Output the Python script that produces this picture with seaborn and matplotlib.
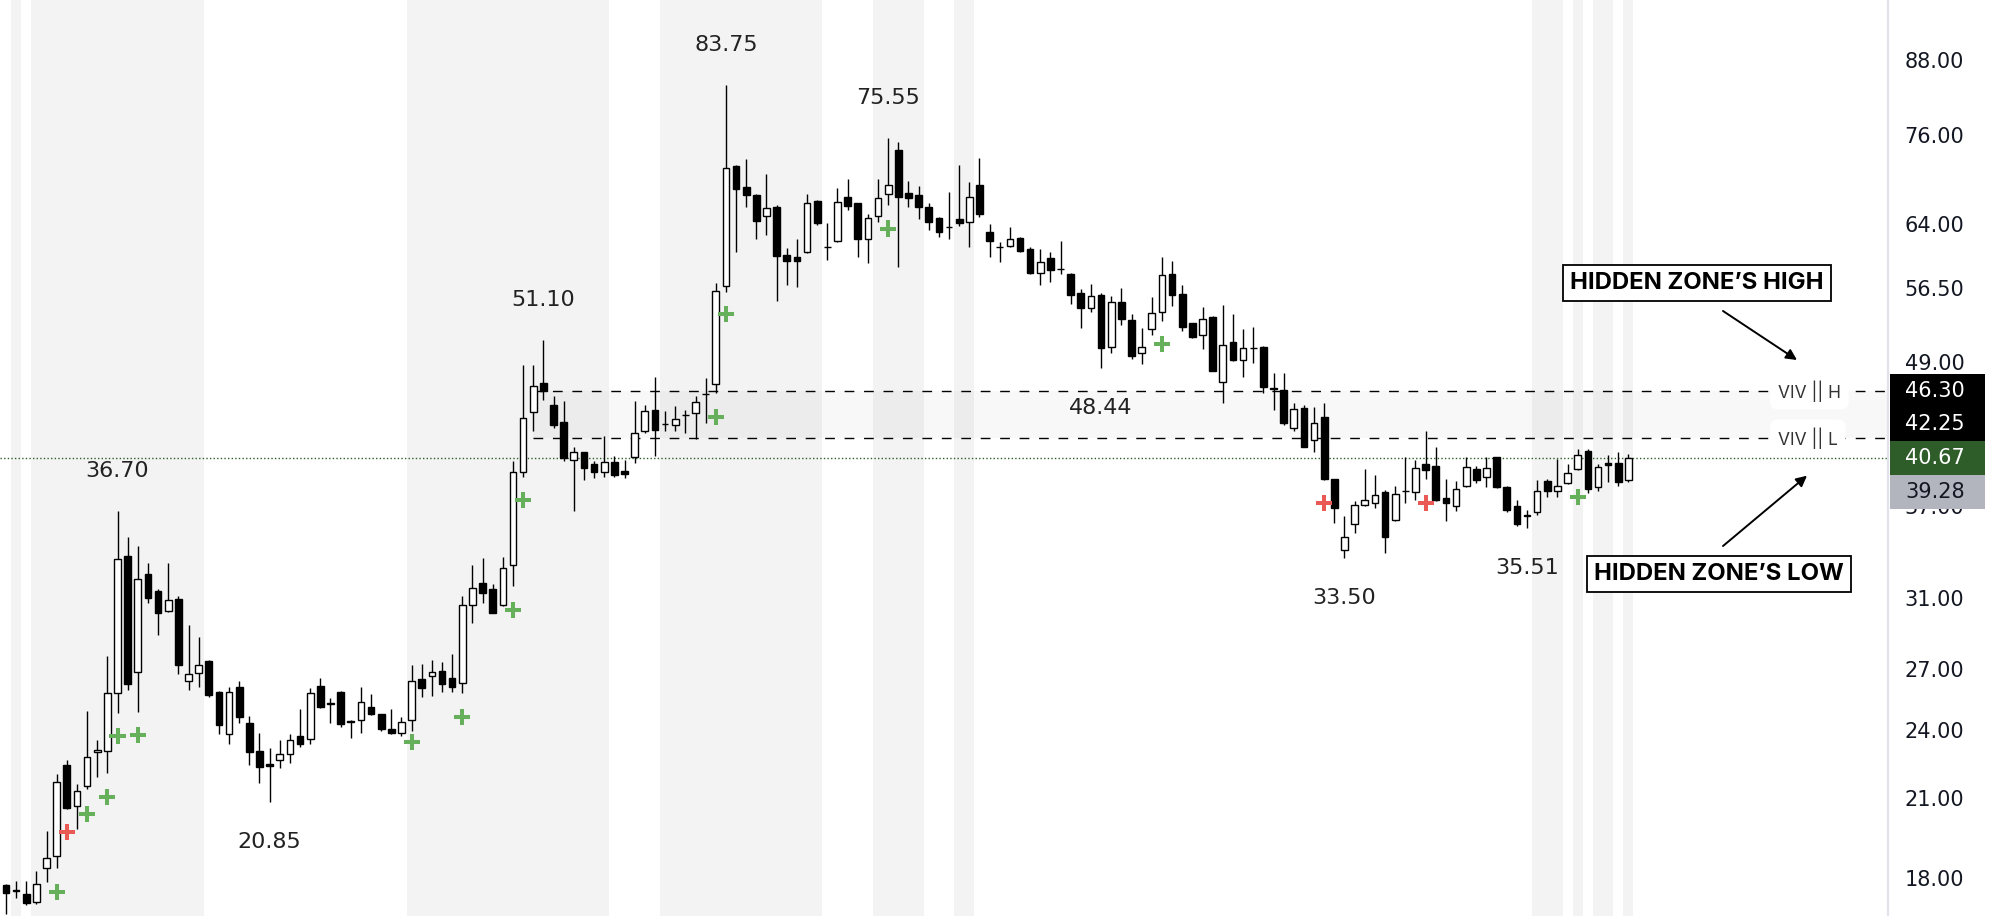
import numpy as np
import pandas as pd
import matplotlib
matplotlib.use("Agg")
import matplotlib.pyplot as plt
import matplotlib.ticker as mticker
import seaborn as sns
from matplotlib.transforms import blended_transform_factory, offset_copy
from matplotlib.patches import Rectangle

# OHLC (log price axis)
opens = [17.76, 17.57, 17.45, 17.19, 18.36, 18.78, 22.41, 20.70, 21.52, 22.98,
         23.03, 25.78, 33.59, 26.85, 32.46, 31.43, 30.21, 30.91, 26.39, 26.80,
         27.42, 25.80, 23.80, 26.09, 24.30, 23.03, 22.45, 22.63, 22.90, 23.72,
         23.58, 26.14, 25.25, 25.80, 24.40, 24.45, 25.09, 24.73, 24.02, 23.85,
         24.46, 26.47, 26.63, 26.87, 26.52, 26.26, 30.57, 31.87, 31.51, 30.57,
         33.00, 39.56, 44.42, 46.98, 45.05, 43.57, 40.50, 41.12, 40.15, 39.52,
         40.31, 39.64, 40.69, 42.79, 44.61, 43.42, 43.34, 44.18, 44.39, 46.05,
         46.92, 56.75, 71.62, 68.71, 67.69, 65.00, 66.10, 60.20, 60.05, 60.57,
         66.90, 61.20, 61.95, 67.47, 66.62, 62.17, 65.01, 67.82, 73.85, 67.91,
         67.69, 66.10, 64.72, 63.66, 64.60, 64.28, 68.95, 63.02, 61.20, 61.35,
         62.26, 60.96, 58.24, 59.86, 58.68, 58.09, 55.96, 54.41, 55.77, 50.44,
         55.00, 53.12, 49.80, 52.18, 53.98, 58.10, 55.85, 52.78, 51.60, 53.40,
         47.08, 50.93, 49.16, 50.30, 50.38, 46.52, 46.40, 43.07, 44.76, 42.09,
         43.99, 39.04, 34.01, 35.76, 37.09, 37.23, 38.02, 36.05, 38.12, 38.02,
         40.15, 40.02, 37.64, 37.00, 38.53, 39.77, 39.17, 40.69, 38.42, 37.00,
         36.36, 36.62, 38.90, 38.10, 38.71, 39.77, 41.19, 38.44, 40.25, 40.23, 38.96]
highs = [17.78, 17.90, 17.90, 18.25, 19.72, 22.02, 22.63, 21.59, 24.88, 23.52,
         27.68, 36.70, 34.84, 34.28, 33.18, 31.50, 33.18, 31.10, 29.41, 28.71,
         27.47, 25.85, 26.06, 26.38, 24.66, 23.83, 23.15, 23.52, 23.80, 24.98,
         26.00, 26.52, 25.51, 25.85, 24.46, 26.06, 25.70, 24.75, 24.96, 24.58,
         27.21, 27.26, 27.47, 27.35, 27.80, 31.10, 33.00, 33.46, 31.82, 33.52,
         40.40, 48.69, 48.69, 51.10, 45.88, 45.40, 41.49, 41.15, 40.44, 42.45,
         40.82, 40.50, 45.40, 45.05, 47.53, 44.52, 44.96, 44.60, 45.88, 47.44,
         57.03, 83.75, 71.70, 72.60, 67.80, 70.48, 66.38, 61.04, 62.17, 67.82,
         67.00, 64.16, 68.68, 69.85, 66.70, 65.20, 69.85, 75.55, 74.97, 69.55,
         68.90, 66.71, 64.80, 68.04, 71.76, 69.38, 72.70, 63.96, 61.80, 63.63,
         62.40, 61.16, 60.96, 60.60, 61.91, 58.20, 56.40, 56.96, 56.00, 55.60,
         56.49, 53.70, 52.27, 55.50, 59.98, 59.60, 56.90, 52.80, 54.45, 53.50,
         54.68, 53.72, 52.18, 52.40, 50.50, 47.97, 47.97, 45.21, 45.05, 44.84,
         45.21, 39.05, 36.34, 37.39, 39.77, 39.34, 38.20, 38.50, 40.75, 40.50,
         42.84, 41.49, 39.02, 38.90, 40.69, 40.00, 40.75, 40.75, 38.50, 37.43,
         36.73, 38.96, 39.02, 40.58, 40.20, 41.33, 41.33, 40.15, 40.85, 41.10, 41.00]
lows = [16.80, 17.32, 17.08, 17.12, 17.87, 18.35, 20.57, 19.78, 21.39, 21.91,
        22.05, 24.78, 25.92, 24.85, 30.71, 28.84, 30.15, 26.74, 25.92, 26.09,
        25.59, 23.80, 23.34, 24.30, 22.41, 21.63, 20.85, 22.26, 22.51, 23.19,
        23.34, 25.03, 24.33, 24.14, 23.60, 23.86, 24.70, 23.93, 23.80, 23.70,
        23.93, 25.59, 25.62, 25.84, 25.84, 25.75, 29.54, 30.69, 30.08, 30.50,
        31.68, 39.21, 42.79, 45.51, 43.07, 40.44, 36.69, 38.96, 39.09, 39.21,
        39.21, 39.09, 40.23, 42.70, 40.79, 42.84, 42.79, 42.70, 42.15, 43.54,
        46.09, 56.12, 60.65, 66.18, 62.17, 62.64, 55.15, 56.85, 56.68, 60.50,
        63.85, 59.67, 61.80, 65.77, 59.98, 59.32, 64.28, 66.45, 58.81, 66.10,
        64.63, 63.23, 62.40, 62.17, 63.76, 61.16, 64.80, 59.98, 59.43, 61.20,
        60.57, 58.10, 56.85, 57.22, 58.10, 54.80, 52.27, 53.90, 48.44, 49.86,
        52.60, 49.20, 48.76, 51.60, 53.00, 54.58, 52.03, 51.30, 50.19, 48.10,
        45.21, 49.10, 47.53, 48.85, 46.06, 44.61, 43.34, 42.80, 41.50, 41.11,
        38.96, 35.85, 33.50, 35.16, 37.00, 36.90, 33.82, 36.00, 37.23, 37.48,
        39.02, 37.40, 35.96, 36.69, 38.45, 38.75, 38.40, 38.35, 36.60, 35.61,
        35.51, 36.40, 37.65, 37.70, 38.65, 39.70, 37.94, 38.10, 38.80, 38.50, 38.80]
closes = [17.48, 17.55, 17.15, 17.78, 18.70, 21.70, 20.60, 21.32, 22.77, 23.05,
          25.78, 33.40, 26.21, 32.13, 30.97, 30.07, 30.83, 27.21, 26.74, 27.21,
          25.67, 24.20, 25.84, 24.61, 23.00, 22.31, 22.38, 22.88, 23.52, 23.33,
          25.78, 25.07, 25.21, 24.27, 24.37, 25.34, 24.73, 24.02, 23.85, 24.38,
          26.39, 26.00, 26.85, 26.21, 26.09, 30.54, 31.58, 31.27, 30.10, 32.83,
          39.52, 43.93, 46.76, 46.31, 43.34, 40.62, 41.15, 39.83, 39.56, 40.31,
          39.34, 39.41, 42.70, 44.55, 42.92, 43.39, 43.84, 44.16, 45.34, 46.00,
          56.23, 71.31, 68.44, 67.69, 64.41, 66.05, 60.17, 59.59, 59.59, 66.62,
          64.16, 61.16, 66.81, 66.32, 62.13, 64.78, 67.28, 68.95, 67.39, 67.28,
          66.18, 64.28, 63.02, 63.63, 64.16, 67.39, 65.29, 61.91, 61.16, 62.17,
          60.76, 58.18, 59.48, 58.54, 58.65, 55.77, 54.35, 55.66, 50.28, 54.99,
          53.19, 49.57, 50.38, 53.88, 57.94, 55.77, 52.44, 51.37, 53.19, 48.16,
          50.61, 49.16, 50.35, 50.28, 46.60, 46.50, 43.54, 44.67, 41.54, 43.54,
          39.02, 36.87, 34.88, 37.09, 37.43, 37.85, 34.84, 37.90, 38.10, 39.83,
          39.72, 37.48, 37.23, 38.28, 39.97, 38.92, 39.83, 38.44, 36.73, 35.78,
          36.34, 38.10, 38.15, 38.53, 39.47, 40.87, 38.28, 39.92, 40.10, 38.80, 40.67]

# shaded session blocks (first, last candle index)
shade_ranges = [(1, 1), (3, 19), (40, 59), (65, 80), (86, 90), (94, 95),
                (151, 153), (155, 155), (157, 158), (160, 160)]

pivot_high_idx = [11, 53, 71, 87]
pivot_low_idx = [26, 108, 132, 150]

buy_idx = [5, 8, 10, 11, 13, 40, 45, 50, 51, 70, 71, 87, 114, 155]
buy_price = [17.52, 20.38, 21.05, 23.72, 23.75, 23.42, 24.60, 30.27, 37.48,
             44.04, 53.74, 63.43, 50.71, 37.68]
sell_idx = [6, 130, 140]
sell_price = [19.69, 37.23, 37.23]

zone_high = 46.30
zone_low = 42.25
zone_start = 52
extra_level = 39.28

price_ticks = [18, 21, 24, 27, 31, 37, 49, 56.5, 64, 76, 88]

sns.set_theme(style="white")
plt.rcParams['font.family'] = ['DejaVu Sans']
label_font = ['Inter', 'DejaVu Sans']

W, H = 1996, 916
fig = plt.figure(figsize=(W / 100, H / 100), dpi=100)
ax = fig.add_axes([0, 0, 1888 / W, 1])

df = pd.DataFrame({"o": opens, "h": highs, "l": lows, "c": closes})
df["x"] = np.arange(len(df))
df["up"] = df["c"] >= df["o"]

xmax = 185.6
ax.set_yscale("log")
ax.set_xlim(-0.59, xmax)
ax.set_ylim(16.72, 98.8)

for s, e in shade_ranges:
    ax.axvspan(s - 0.5, e + 0.5, color="#f3f3f3", lw=0, zorder=0)

# hidden zone
ax.fill_between([zone_start, xmax], zone_low, zone_high, color="#808080",
                alpha=0.055, lw=0, zorder=0.5)
ax.hlines([zone_high, zone_low], zone_start, xmax, colors="black",
          linestyles=(0, (7, 7)), lw=1.0, zorder=1)
ax.axhline(closes[-1], color="#2f5d2a", lw=1.0, ls=(0, (1, 1.6)), zorder=1)

# candles
ax.vlines(df["x"], df["l"], df["h"], color="black", lw=1.0, zorder=2)
body = (df["c"] - df["o"]).abs().clip(lower=1e-4)
ax.bar(df["x"], body, bottom=np.minimum(df["o"], df["c"]), width=0.66,
       color=np.where(df["up"], "white", "black"), edgecolor="black",
       linewidth=1.0, zorder=3)

# signal crosses
sig = pd.DataFrame({"x": buy_idx + sell_idx, "price": buy_price + sell_price,
                    "kind": ["buy"] * len(buy_idx) + ["sell"] * len(sell_idx)})
sns.scatterplot(data=sig, x="x", y="price", hue="kind",
                palette={"buy": "#66b05c", "sell": "#ea5a55"}, marker="+",
                s=135, linewidth=2.9, legend=False, ax=ax, zorder=4)

# pivot labels
for i in pivot_high_idx:
    ax.annotate(f"{highs[i]:.2f}", (i, highs[i]), xytext=(0, 40),
                textcoords="offset pixels", ha="center", va="center",
                fontsize=16, color="#222222")
for i in pivot_low_idx:
    ax.annotate(f"{lows[i]:.2f}", (i, lows[i]), xytext=(0, -40),
                textcoords="offset pixels", ha="center", va="center",
                fontsize=16, color="#222222")

# axis
ax.set_xticks([])
ax.set_xlabel("")
ax.set_ylabel("")
ax.yaxis.tick_right()
ax.set_yticks(price_ticks, labels=[f"{v:.2f}" for v in price_ticks])
ax.yaxis.set_minor_locator(mticker.NullLocator())
ax.tick_params(axis="y", length=0, pad=12, labelsize=15, labelcolor="#131722")
for side in ["left", "top", "bottom"]:
    ax.spines[side].set_visible(False)
ax.spines["right"].set_color("#e0e3eb")
ax.spines["right"].set_linewidth(1.6)

blend = blended_transform_factory(ax.transAxes, ax.transData)
ax.annotate("100.00", xy=(1.0, 100), xycoords=blend, xytext=(17, 0),
            textcoords="offset pixels", ha="left", va="center", fontsize=15,
            color="#131722", annotation_clip=False)

# zone line labels
ax.text(0.9417, zone_high, "VIV || H", transform=blend, ha="left", va="center",
        fontsize=12.5, color="#333333", zorder=5, family=label_font,
        bbox=dict(boxstyle="round,pad=0.45", fc="white", ec="none"))
ax.text(0.9417, zone_low, "VIV || L", transform=blend, ha="left", va="center",
        fontsize=12.5, color="#333333", zorder=5, family=label_font,
        bbox=dict(boxstyle="round,pad=0.45", fc="white", ec="none"))

# price tags, stacked down from the zone high
tags = [(zone_high, "#000000", "white"), (zone_low, "#000000", "white"),
        (closes[-1], "#2f5d2a", "white"), (extra_level, "#b2b5be", "#131722")]
half = np.exp(17 / 515.6)
for k, (val, bg, fg) in enumerate(tags):
    tr = offset_copy(blend, fig=fig, x=0, y=-33.6 * k, units="dots")
    ax.add_patch(Rectangle((1.001, zone_high / half), 95 / 1888,
                           zone_high * half - zone_high / half,
                           transform=tr, fc=bg, ec="none", clip_on=False, zorder=6))
    tr_t = offset_copy(blend, fig=fig, x=17, y=-33.6 * k, units="dots")
    ax.text(1.0, zone_high, f"{val:.2f}", transform=tr_t, ha="left", va="center",
            fontsize=15, color=fg, zorder=7, clip_on=False)

# callouts
box = dict(boxstyle="square,pad=0.3", fc="white", ec="black", lw=1.3)
ax.text(0.8988, 0.691, "HIDDEN ZONE\u2019S HIGH", transform=ax.transAxes,
        ha="center", va="center", fontsize=17.2, fontweight="bold", color="black",
        family=label_font, bbox=box, zorder=6)
ax.text(0.9105, 0.3734, "HIDDEN ZONE\u2019S LOW", transform=ax.transAxes,
        ha="center", va="center", fontsize=17.2, fontweight="bold", color="black",
        family=label_font, bbox=box, zorder=6)
arrow = dict(arrowstyle="-|>", color="black", lw=1.4, mutation_scale=16,
             shrinkA=0, shrinkB=0)
ax.annotate("", xy=(0.9518, 0.607), xytext=(0.9126, 0.6605),
            xycoords="axes fraction", arrowprops=arrow)
ax.annotate("", xy=(0.9571, 0.4807), xytext=(0.9126, 0.4039),
            xycoords="axes fraction", arrowprops=arrow)

fig.savefig("out.png", dpi=100, facecolor="white")
